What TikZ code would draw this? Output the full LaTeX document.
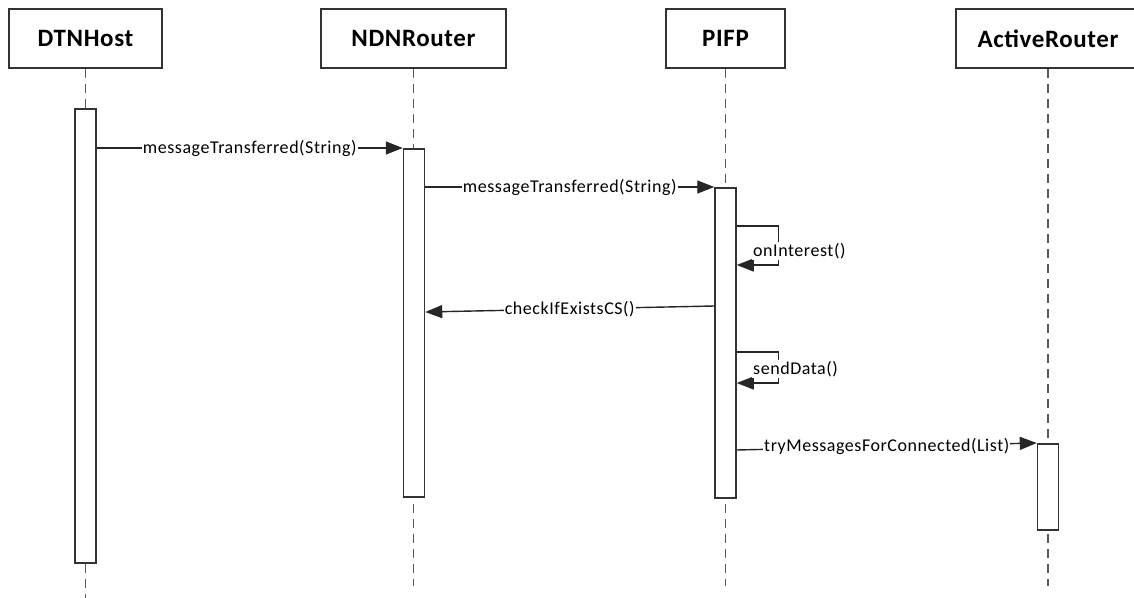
\documentclass[tikz,border=0pt]{standalone}
\usepackage{fontspec}
\setmainfont{Carlito}
\newfontfamily\headfont[LetterSpace=2.5]{Carlito}
\newfontfamily\msgfont[LetterSpace=3]{Carlito}
\usetikzlibrary{arrows.meta}
\begin{document}
\begin{tikzpicture}[x=1pt,y=-1pt,
  actor/.style={draw=black!80, line width=1.6pt, fill=white, minimum height=59pt,
    inner sep=0pt, font=\headfont\bfseries\fontsize{25}{27}\selectfont},
  life/.style={draw=black!65, line width=1.7pt, dash pattern=on 9pt off 6pt},
  bar/.style={draw=black!80, line width=1.5pt, fill=white, minimum width=21pt,
    inner sep=0pt, anchor=north},
  msg/.style={draw=black!85, line width=1.4pt, -{Triangle[length=17pt,width=13pt]}},
  lbl/.style={fill=white, inner sep=1pt, text=black, font=\msgfont\fontsize{18}{20}\selectfont}
]
\clip (0,0) rectangle (1134,597);
\fill[white] (0,0) rectangle (1134,597);

% participants
\node[actor, minimum width=153pt] (dtn)  at (85.5,38.5)  {DTNHost};
\node[actor, minimum width=185pt] (ndn)  at (413.5,38.5) {NDNRouter};
\node[actor, minimum width=119pt] (pifp) at (725.5,38.5) {PIFP};
\node[actor, minimum width=184pt] (act)  at (1048,38.5)  {ActiveRouter};

% lifeline ends
\coordinate (dtnend)  at (85.5,600);
\coordinate (ndnend)  at (413.5,586);
\coordinate (pifpend) at (725.5,586);
\coordinate (actend)  at (1048,586);

\draw[life] (dtn.south)  -- (dtnend);
\draw[life] (ndn.south)  -- (ndnend);
\draw[life] (pifp.south) -- (pifpend);
\draw[life] (act.south)  -- (actend);

% activation bars
\node[bar, minimum height=454pt] (dtnbar)  at (85.5,108)  {};
\node[bar, minimum height=348pt] (ndnbar)  at (414,148)   {};
\node[bar, minimum height=310pt] (pifpbar) at (725.5,187) {};
\node[bar, minimum height=86pt]  (actbar)  at (1048,443)  {};

% message end points
\coordinate (m1s) at ([yshift=-40pt]dtnbar.north east);
\coordinate (m2s) at ([yshift=-39pt]ndnbar.north east);
\coordinate (m3s) at ([yshift=-39pt]pifpbar.north east);
\coordinate (m3e) at ([yshift=-78pt]pifpbar.north east);
\coordinate (m4s) at ([yshift=-119pt]pifpbar.north west);
\coordinate (m4e) at ([yshift=-164pt]ndnbar.north east);
\coordinate (m5s) at ([yshift=-165pt]pifpbar.north east);
\coordinate (m5e) at ([yshift=-196pt]pifpbar.north east);
\coordinate (m6s) at ([yshift=-263pt]pifpbar.north east);

% messages
\draw[msg] (m1s) -- node[lbl] {messageTransferred(String)} (ndnbar.north west);
\draw[msg] (m2s) -- node[lbl] {messageTransferred(String)} (pifpbar.north west);
\draw[msg] (m3s) -- ++(42,0) |- (m3e);
\node[lbl, anchor=west] (l3) at (752,251) {onInterest()};
\draw[msg] (m4s) -- node[lbl] {checkIfExistsCS()} (m4e);
\draw[msg] (m5s) -- ++(42,0) |- (m5e);
\node[lbl, anchor=west] (l5) at (752,369) {sendData()};
\draw[msg] (m6s) -- node[lbl] {tryMessagesForConnected(List)} (actbar.north west);
\end{tikzpicture}
\end{document}
